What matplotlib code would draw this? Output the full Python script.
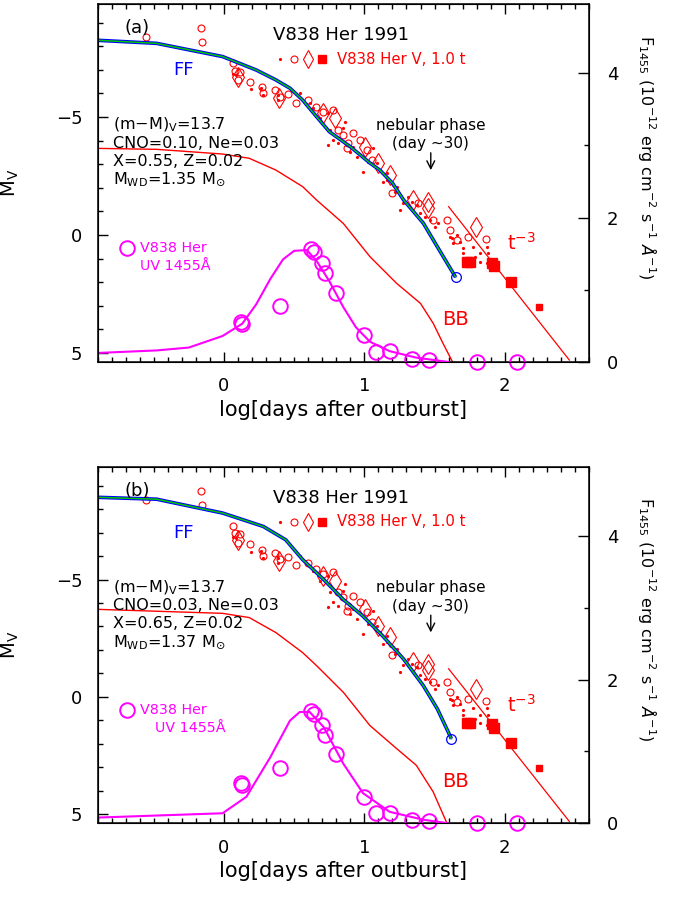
import numpy as np
import matplotlib.pyplot as plt
from matplotlib.ticker import MultipleLocator, FixedLocator

plt.rcParams['font.family'] = ['DejaVu Sans']
plt.rcParams['mathtext.fontset'] = 'dejavusans'

# V band observations (log t, M_V)
dot_x = [0.063, 0.087, 0.194, 0.266, 0.277, 0.387, 0.384, 0.539, 0.611, 0.634, 0.682, 0.741,
         0.754, 0.777, 0.741, 0.849, 0.861, 0.92, 0.944, 0.991, 1.063, 1.087, 1.134, 1.159,
         1.206, 1.111, 1.027, 0.813, 0.896, 1.159, 1.23, 1.254, 1.277, 1.313, 1.373, 1.396,
         1.468, 1.504, 1.527, 1.611, 1.634, 1.682, 1.706, 1.659, 1.777, 1.825, 1.789, 1.873,
         1.884, 1.825, 1.873, 1.706, 1.741, 1.623, 1.337, 1.218, 1.432]
dot_m = [-6.82, -6.78, -6.17, -6.22, -5.93, -5.93, -5.72, -6.0, -5.58, -5.37, -4.94, -5.16,
         -4.45, -4.03, -3.81, -4.52, -4.8, -3.74, -3.32, -2.68, -3.67, -3.04, -2.26, -2.61,
         -2.12, -2.75, -3.11, -3.89, -3.53, -2.33, -2.05, -1.06, -1.34, -1.62, -1.27, -0.92,
         -0.64, -0.35, -0.5, 0.07, 0.35, 0.28, 0.56, 0.0, 0.49, 0.78, 0.92, 0.49,
         0.78, 1.13, 1.2, 0.78, 1.06, 0.14, -1.41, -1.83, -0.78]

circ_x = [-0.556, -0.163, -0.156, 0.063, 0.075, 0.116, 0.099, 0.182, 0.273, 0.277, 0.361,
          0.396, 0.456, 0.516, 0.599, 0.659, 0.706, 0.777, 0.813, 0.849, 0.884, 0.92, 0.968,
          0.873, 1.016, 1.051, 1.194, 1.587, 1.611, 1.741, 1.868, 1.384, 1.491, 1.659]
circ_m = [-8.38, -8.78, -8.17, -7.28, -6.96, -6.92, -6.57, -6.5, -6.26, -6.0, -6.14,
          -5.86, -5.96, -5.61, -5.72, -5.44, -5.22, -5.3, -4.45, -4.24, -3.89, -4.31, -4.03,
          -3.67, -3.6, -3.18, -1.77, -0.64, -0.21, 0.07, 0.17, -1.34, -0.64, 0.21]

diam_x = [0.099, 0.391, 0.706, 0.789, 1.004, 1.099, 1.182, 1.349, 1.456, 1.456, 1.796]
diam_m = [-6.68, -5.79, -5.16, -4.94, -3.74, -3.04, -2.54, -1.48, -1.41, -1.13, -0.35]

sq_x = [1.73, 1.754, 1.909, 1.925, 2.044]
sq_m = [1.13, 1.13, 1.17, 1.31, 1.98]
sq_small_x = [2.246]
sq_small_m = [3.04]

# UV 1455 A observations (log t, flux)
uv_x = [0.12, 0.13, 0.40, 0.62, 0.64, 0.70, 0.72, 0.80, 1.00, 1.08, 1.18, 1.34, 1.46, 1.80, 2.09]
uv_f = [0.56, 0.53, 0.77, 1.57, 1.52, 1.37, 1.23, 0.96, 0.37, 0.14, 0.15, 0.04, 0.03, 0.0, 0.0]

# t^-3 line
t3_x = [1.60, 2.46]
t3_m = [-1.2, 5.3]

# panel (a) models
ffa_x = [-0.9, -0.48, -0.01, 0.23, 0.37, 0.47, 0.56, 0.66, 0.75, 0.90, 1.04, 1.11, 1.20, 1.28,
         1.42, 1.52, 1.65]
ffa_m = [-8.25, -8.12, -7.56, -6.99, -6.57, -6.22, -5.72, -5.01, -4.38, -3.74, -3.05, -2.75,
         -2.2, -1.48, -0.5, 0.5, 1.79]
bba_x = [-0.9, -0.48, -0.01, 0.18, 0.37, 0.56, 0.66, 0.85, 1.04, 1.23, 1.40, 1.49, 1.56, 1.63]
bba_m = [-3.67, -3.63, -3.43, -3.25, -2.75, -2.05, -1.48, -0.49, 0.92, 2.05, 2.9, 3.74, 4.59, 5.4]
uva_x = [-0.9, -0.48, -0.25, -0.01, 0.13, 0.23, 0.33, 0.42, 0.50, 0.59, 0.66, 0.75, 0.85, 0.94,
         1.04, 1.18, 1.37, 1.60]
uva_f = [0.125, 0.16, 0.2, 0.36, 0.53, 0.8, 1.15, 1.42, 1.54, 1.55, 1.40, 1.12, 0.76, 0.48,
         0.28, 0.15, 0.06, 0.0]

# panel (b) models
ffb_x = [-0.9, -0.48, -0.01, 0.28, 0.44, 0.56, 0.71, 0.85, 0.99, 1.13, 1.28, 1.42, 1.52, 1.62]
ffb_m = [-8.5, -8.42, -7.83, -7.26, -6.69, -5.85, -5.0, -4.15, -3.44, -2.6, -1.61, -0.48,
         0.51, 1.78]
bbb_x = [-0.9, -0.01, 0.18, 0.37, 0.56, 0.66, 0.85, 1.04, 1.23, 1.37, 1.49, 1.59]
bbb_m = [-3.73, -3.56, -3.38, -2.74, -1.89, -1.33, -0.2, 1.22, 2.2, 2.91, 4.04, 5.4]
uvb_x = [-0.9, -0.01, 0.16, 0.33, 0.47, 0.54, 0.61, 0.71, 0.85, 0.99, 1.18, 1.42, 1.60]
uvb_f = [0.08, 0.14, 0.37, 0.92, 1.43, 1.55, 1.55, 1.34, 0.83, 0.42, 0.16, 0.05, 0.0]

RED = '#ff0000'
MAG = '#ff00ff'
BLUE = '#0000ff'
GREEN = '#00c800'


def draw_panel(ax, tag, cno, xh, mwd, ff_x, ff_m, bb_x, bb_m, uvc_x, uvc_f, uv_indent):
    ax.set_xlim(-0.9, 2.6)
    ax.set_ylim(5.38, -9.79)

    # V data
    ax.plot(dot_x, dot_m, 'o', color=RED, ms=2.3, mew=0, ls='none')
    ax.plot(circ_x, circ_m, 'o', mfc='none', mec=RED, ms=5, mew=0.8, ls='none')
    ax.plot(diam_x, diam_m, 'd', mfc='none', mec=RED, ms=10, mew=0.8, ls='none')
    ax.plot(sq_x, sq_m, 's', color=RED, ms=7, ls='none')
    ax.plot(sq_small_x, sq_small_m, 's', color=RED, ms=5, ls='none')

    # models
    ax.plot(bb_x, bb_m, color=RED, lw=1.0)
    ax.plot(t3_x, t3_m, color=RED, lw=0.9)
    ax.plot(ff_x, ff_m, color=BLUE, lw=2.6, solid_capstyle='butt')
    ax.plot(ff_x, ff_m, color=GREEN, lw=1.1)
    ax.plot(ff_x[-1], ff_m[-1], 'o', mfc='none', mec=BLUE, ms=7, mew=0.9)

    # texts
    ax.text(0.080, 0.932, tag, transform=ax.transAxes, fontsize=13, ha='center', va='center')
    ax.text(0.495, 0.913, 'V838 Her 1991', transform=ax.transAxes, fontsize=13,
            ha='center', va='center')
    ax.plot([0.371], [0.846], 'o', color=RED, ms=2.3, mew=0, transform=ax.transAxes)
    ax.plot([0.400], [0.846], 'o', mfc='none', mec=RED, ms=5, mew=0.8, transform=ax.transAxes)
    ax.plot([0.429], [0.846], 'd', mfc='none', mec=RED, ms=9, mew=0.8, transform=ax.transAxes)
    ax.plot([0.457], [0.846], 's', color=RED, ms=5.5, transform=ax.transAxes)
    ax.text(0.487, 0.846, 'V838 Her V, 1.0 t', transform=ax.transAxes, fontsize=10.7,
            color=RED, ha='left', va='center')
    ax.text(0.174, 0.816, 'FF', transform=ax.transAxes, fontsize=13, color=BLUE,
            ha='center', va='center')

    lines = [r'(m$-$M)$_{\rm V}$=13.7', 'CNO=%s, Ne=0.03' % cno, 'X=%s, Z=0.02' % xh,
             r'M$_{\rm WD}$=%s M$_{\odot}$' % mwd]
    for s, yy in zip(lines, [0.662, 0.611, 0.560, 0.510]):
        ax.text(0.032, yy, s, transform=ax.transAxes, fontsize=11.5, ha='left', va='center')

    ax.text(1.473, -4.64, 'nebular phase', fontsize=11, ha='center', va='center')
    ax.text(1.473, -3.86, '(day \u223c30)', fontsize=11, ha='center', va='center')
    ax.annotate('', xy=(1.473, -2.63), xytext=(1.473, -3.6),
                arrowprops=dict(arrowstyle='->', color='black', lw=1.0,
                                mutation_scale=14))
    ax.text(2.12, 0.35, r't$^{-3}$', fontsize=14, color=RED, ha='center', va='center')
    ax.text(1.646, 3.6, 'BB', fontsize=14, color=RED, ha='center', va='center')

    ax.plot([0.059], [0.318], 'o', mfc='none', mec=MAG, ms=10.5, mew=1.4,
            transform=ax.transAxes)
    ax.text(0.086, 0.318, 'V838 Her', transform=ax.transAxes, fontsize=10.3, color=MAG,
            ha='left', va='center')
    ax.text(uv_indent, 0.268, 'UV 1455\u00c5', transform=ax.transAxes, fontsize=10.3,
            color=MAG, ha='left', va='center')

    # ticks
    ax.xaxis.set_major_locator(FixedLocator([0, 1, 2]))
    ax.xaxis.set_minor_locator(MultipleLocator(0.1))
    ax.yaxis.set_major_locator(FixedLocator([-5, 0, 5]))
    ax.yaxis.set_minor_locator(MultipleLocator(1))
    ax.tick_params(which='both', direction='in', top=True, right=False, width=1.0)
    ax.tick_params(which='major', length=7, labelsize=13, pad=11)
    ax.tick_params(which='minor', length=3.5)
    for sp in ax.spines.values():
        sp.set_linewidth(1.1)
    ax.set_ylabel(r'M$_{\rm V}$', fontsize=14)
    ax.yaxis.set_label_coords(-0.155, 0.5)
    ax.set_xlabel('log[days after outburst]', fontsize=15)
    ax.xaxis.set_label_coords(0.5, -0.105)

    # UV flux on right axis
    ax2 = ax.twinx()
    ax2.set_ylim(0, 4.96)
    ax2.plot(uvc_x, uvc_f, color=MAG, lw=1.5)
    ax2.plot(uv_x, uv_f, 'o', mfc='none', mec=MAG, ms=10.5, mew=1.4, ls='none',
             clip_on=False)
    ax2.yaxis.set_major_locator(FixedLocator([0, 2, 4]))
    ax2.yaxis.set_minor_locator(FixedLocator([1, 3]))
    ax2.tick_params(which='both', direction='in', width=1.0)
    ax2.tick_params(which='major', length=8, labelsize=13, pad=13)
    ax2.tick_params(which='minor', length=3.5)
    ax2.text(1.12, 0.573, r'F$_{1455}$ (10$^{-12}$ erg cm$^{-2}$ s$^{-1}$ $\AA^{-1}$)',
             transform=ax2.transAxes, rotation=-90, fontsize=11.5, ha='center', va='center')
    return ax2


fig = plt.figure(figsize=(6.86, 9.15), dpi=100)
ax_a = fig.add_axes([0.1423, 0.6044, 0.7163, 0.3913])
ax_b = fig.add_axes([0.1423, 0.1002, 0.7163, 0.3894])

draw_panel(ax_a, '(a)', '0.10', '0.55', '1.35', ffa_x, ffa_m, bba_x, bba_m, uva_x, uva_f, 0.086)
draw_panel(ax_b, '(b)', '0.03', '0.65', '1.37', ffb_x, ffb_m, bbb_x, bbb_m, uvb_x, uvb_f, 0.117)

fig.savefig('out.png', dpi=100)
